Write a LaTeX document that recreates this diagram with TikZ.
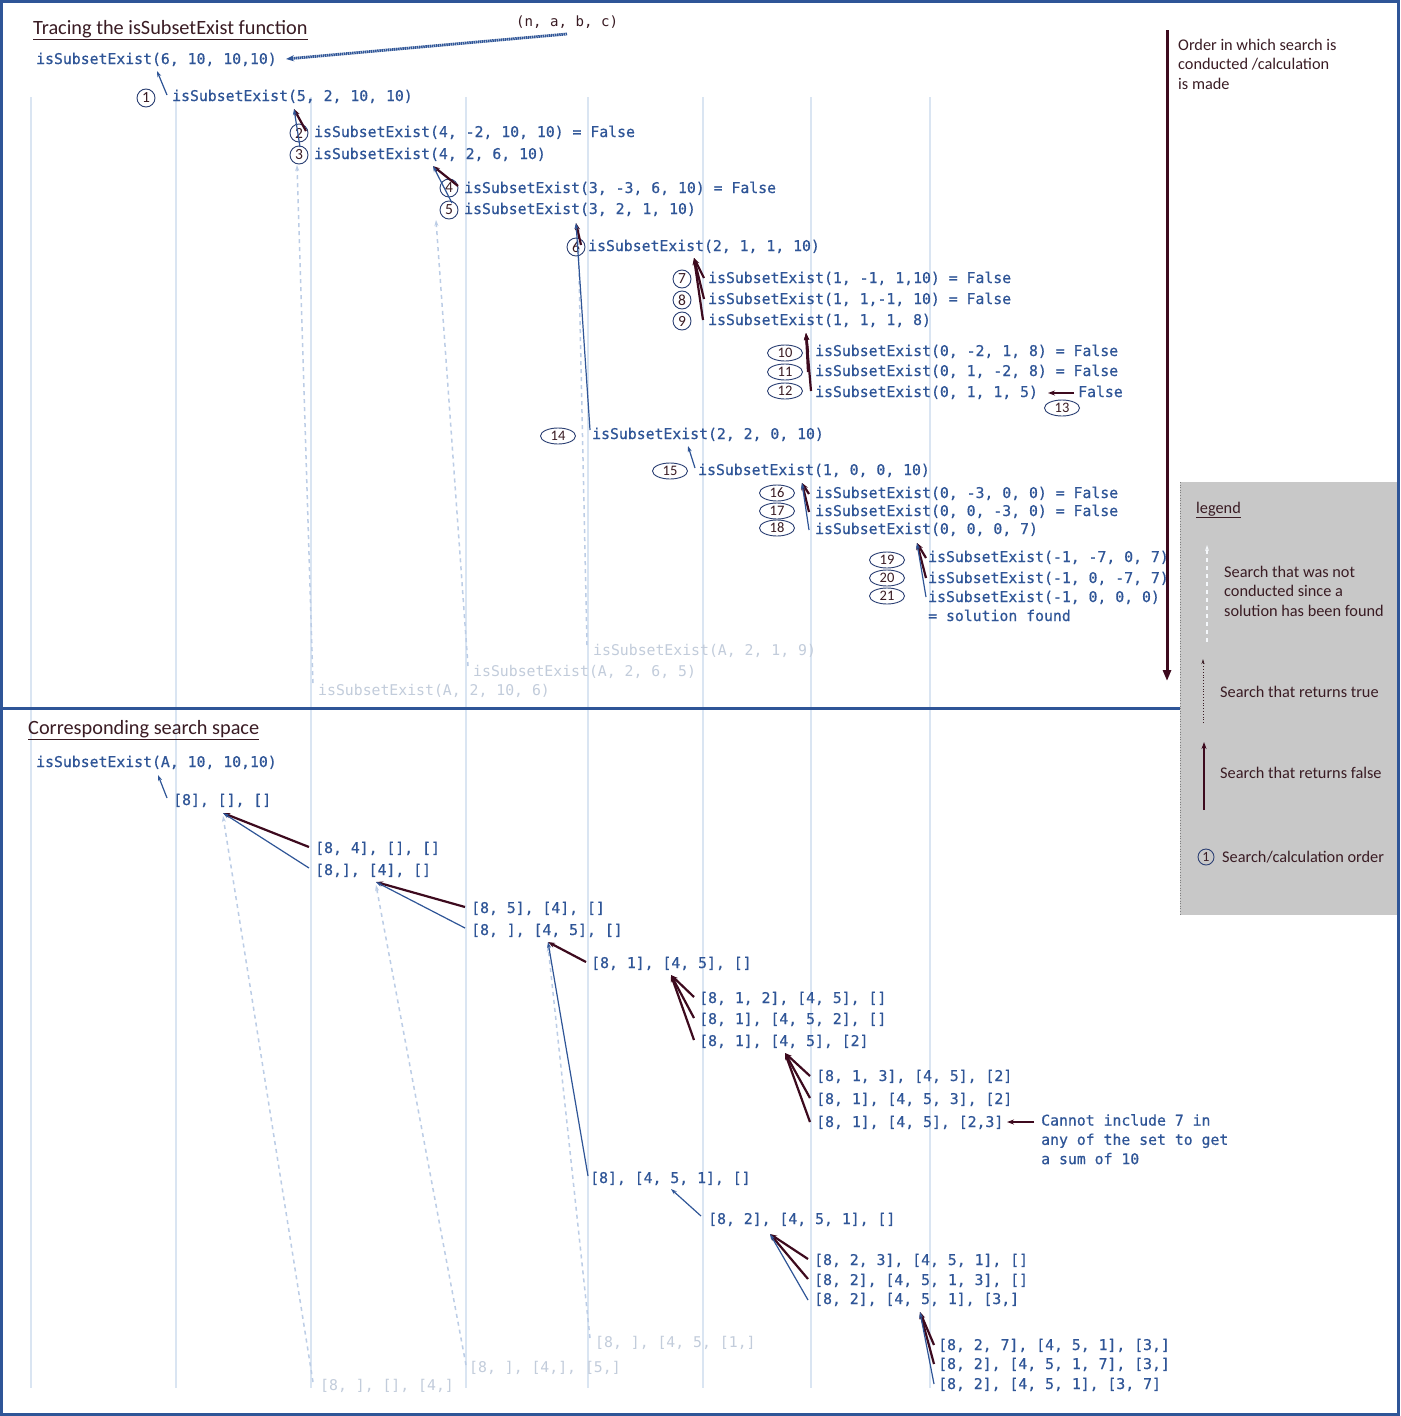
\documentclass[tikz,border=0pt]{standalone}
\usepackage{fontspec}
\setmainfont{Carlito}
\setmonofont{DejaVu Sans Mono}[BoldFont={DejaVu Sans Mono},BoldFeatures={FakeBold=0.6}]
\usetikzlibrary{shapes.geometric,arrows.meta}
\definecolor{blueT}{HTML}{2F5597}
\definecolor{maroonC}{HTML}{3D0A1E}
\definecolor{gridC}{HTML}{DAE5F2}
\definecolor{fadeC}{HTML}{C2CCDB}
\definecolor{dashC}{HTML}{BCCDE6}
\definecolor{legC}{HTML}{C8C8C8}
\definecolor{darkT}{HTML}{3A1C24}
\definecolor{circC}{HTML}{2B3F73}
\tikzset{
  mono/.style={font=\ttfamily\bfseries\fontsize{14.8}{17}\selectfont, text=blueT, anchor=west, inner sep=0pt, text height=11pt, text depth=3pt},
  fade/.style={mono, font=\ttfamily\fontsize{14.8}{17}\selectfont, text=fadeC},
  sans/.style={font=\fontsize{16.3}{19.5}\selectfont, text=darkT, anchor=west, inner sep=0pt, align=left},
  num/.style={circle, draw=circC, line width=0.9pt, inner sep=0pt, minimum size=18pt, font=\fontsize{15.5}{15.5}\selectfont, text=darkT},
  enum/.style={ellipse, draw=circC, line width=0.9pt, inner sep=0pt, minimum width=35pt, minimum height=16pt, font=\fontsize{14.5}{14.5}\selectfont, text=darkT},
  tru/.style={draw=blueT, line width=1.2pt, -{Stealth[length=6pt,width=4pt]}},
  fls/.style={draw=maroonC, line width=2.2pt, -{Stealth[length=7pt,width=5pt]}},
  notc/.style={draw=dashC, line width=1.5pt, dash pattern=on 4pt off 4pt, -{Stealth[open,length=6pt,width=4pt]}},
  gridln/.style={draw=gridC, line width=2pt},
  ttl/.style={sans, font=\fontsize{20.3}{22}\selectfont}
}
\begin{document}
\begin{tikzpicture}[x=1pt,y=-1pt]
\useasboundingbox (0,0) rectangle (1400,1416);
\fill[white] (0,0) rectangle (1400,1416);
% grid lines
\foreach \gx in {31,176,311,466,588,703,811,930}
  \draw[gridln] (\gx,97) -- (\gx,1388);
% legend box
\fill[legC] (1180,482) rectangle (1398,915);
\draw[gray, dotted, line width=0.6pt] (1180,482) -- (1180,915);
% separator and frame
\draw[blueT, line width=3pt] (0,708) -- (1180,708);
\draw[blueT, line width=3pt] (1.5,1.5) rectangle (1398.5,1414.5);
% order arrow
\draw[maroonC, line width=3pt, -{Triangle[length=11pt,width=8pt]}] (1167,30) -- (1167,681);
\node[sans] (order) at (1178,64) {Order in which search is\\conducted /calculation\\is made};

% ===== top section =====
\node[ttl] (title1) at (33,30) {\underline{Tracing the isSubsetExist function}};
\node[mono, text=darkT, font=\ttfamily\fontsize{14.1}{17}\selectfont] (nabc) at (516,23) {(n, a, b, c)};
\node[mono] (t0) at (36,60) {isSubsetExist(6, 10, 10,10)};
\node[mono] (t1) at (172,97) {isSubsetExist(5, 2, 10, 10)};
\node[mono] (t2) at (314,133) {isSubsetExist(4, -2, 10, 10) = False};
\node[mono] (t3) at (314,155) {isSubsetExist(4, 2, 6, 10)};
\node[mono] (t4) at (464,189) {isSubsetExist(3, -3, 6, 10) = False};
\node[mono] (t5) at (464,210) {isSubsetExist(3, 2, 1, 10)};
\node[mono] (t6) at (588,247) {isSubsetExist(2, 1, 1, 10)};
\node[mono] (t7) at (708,279) {isSubsetExist(1, -1, 1,10) = False};
\node[mono] (t8) at (708,300) {isSubsetExist(1, 1,-1, 10) = False};
\node[mono] (t9) at (708,321) {isSubsetExist(1, 1, 1, 8)};
\node[mono] (t10) at (815,352) {isSubsetExist(0, -2, 1, 8) = False};
\node[mono] (t11) at (815,372) {isSubsetExist(0, 1, -2, 8) = False};
\node[mono] (t12) at (815,393) {isSubsetExist(0, 1, 1, 5)};
\node[mono] (f13) at (1078,393) {False};
\node[mono] (t14) at (592,435) {isSubsetExist(2, 2, 0, 10)};
\node[mono] (t15) at (698,471) {isSubsetExist(1, 0, 0, 10)};
\node[mono] (t16) at (815,494) {isSubsetExist(0, -3, 0, 0) = False};
\node[mono] (t17) at (815,512) {isSubsetExist(0, 0, -3, 0) = False};
\node[mono] (t18) at (815,530) {isSubsetExist(0, 0, 0, 7)};
\node[mono] (t19) at (928,558) {isSubsetExist(-1, -7, 0, 7)};
\node[mono] (t20) at (928,579) {isSubsetExist(-1, 0, -7, 7)};
\node[mono] (t21) at (928,598) {isSubsetExist(-1, 0, 0, 0)};
\node[mono] (t21b) at (928,617) {= solution found};
\node[fade] (fa) at (593,651) {isSubsetExist(A, 2, 1, 9)};
\node[fade] (fb) at (473,672) {isSubsetExist(A, 2, 6, 5)};
\node[fade] (fc) at (318,691) {isSubsetExist(A, 2, 10, 6)};
% order markers
\node[num] (c1) at (146,98) {1};
\node[num] (c2) at (299,133) {2};
\node[num] (c3) at (299,155) {3};
\node[num] (c4) at (449,188) {4};
\node[num] (c5) at (449,210) {5};
\node[num] (c6) at (576,247) {6};
\node[num] (c7) at (682,279) {7};
\node[num] (c8) at (682,300) {8};
\node[num] (c9) at (682,321) {9};
\node[enum] (e10) at (785,353) {10};
\node[enum] (e11) at (785,372) {11};
\node[enum] (e12) at (785,391) {12};
\node[enum] (e13) at (1062,408) {13};
\node[enum] (e14) at (558,436) {14};
\node[enum] (e15) at (670,471) {15};
\node[enum] (e16) at (777,493) {16};
\node[enum] (e17) at (777,511) {17};
\node[enum] (e18) at (777,528) {18};
\node[enum] (e19) at (887,560) {19};
\node[enum] (e20) at (887,578) {20};
\node[enum] (e21) at (887,596) {21};
% connector end points
\coordinate (abcS) at (567,34);   \coordinate (abcE) at (286,59);
\coordinate (s1) at (167,95);     \coordinate (p0) at (157,71);
\coordinate (s2) at (306,131);    \coordinate (s3) at (300,147);  \coordinate (p1) at (294,109);
\coordinate (s4) at (458,186);    \coordinate (s5) at (452,203);  \coordinate (p3) at (433,166);
\coordinate (s6) at (581,245);    \coordinate (s14) at (590,430); \coordinate (p5) at (576,223);
\coordinate (s7) at (704,278);    \coordinate (s8) at (704,299);  \coordinate (s9) at (703,320); \coordinate (p6) at (694,258);
\coordinate (s10) at (808,352);   \coordinate (s11) at (808,372); \coordinate (s12) at (811,391); \coordinate (p9) at (806,333);
\coordinate (s13) at (1074,393);  \coordinate (p12) at (1048,393);
\coordinate (s15) at (695,468);   \coordinate (p14) at (688,446);
\coordinate (s16) at (809,494);   \coordinate (s17) at (809,512); \coordinate (s18) at (809,530); \coordinate (p15) at (802,483);
\coordinate (s19) at (926,558);   \coordinate (s20) at (926,578); \coordinate (s21) at (926,597); \coordinate (p18) at (917,543);
\coordinate (sfc) at (313,683);   \coordinate (pfc) at (297,165);
\coordinate (sfb) at (468,666);   \coordinate (pfb) at (436,220);
\coordinate (sfa) at (587,645);   \coordinate (pfa) at (578,226);
% connectors
\draw[blueT, line width=2.8pt, dash pattern=on 1.5pt off 0.6pt, -{Stealth[open,length=8pt,width=6pt]}] (abcS) -- (abcE);
\draw[notc] (sfc) -- (pfc);
\draw[notc] (sfb) -- (pfb);
\draw[notc] (sfa) -- (pfa);
\draw[tru] (s1) -- (p0);
\draw[fls] (s2) -- (p1);
\draw[tru] (s3) -- (p1);
\draw[fls] (s4) -- (p3);
\draw[tru] (s5) -- (p3);
\draw[fls] (s6) -- (p5);
\draw[tru] (s14) -- (p5);
\draw[fls] (s7) -- (p6);
\draw[fls] (s8) -- (p6);
\draw[fls] (s9) -- (p6);
\draw[fls] (s10) -- (p9);
\draw[fls] (s11) -- (p9);
\draw[fls] (s12) -- (p9);
\draw[fls] (s13) -- (p12);
\draw[tru] (s15) -- (p14);
\draw[fls] (s16) -- (p15);
\draw[fls] (s17) -- (p15);
\draw[tru] (s18) -- (p15);
\draw[fls] (s19) -- (p18);
\draw[fls] (s20) -- (p18);
\draw[tru] (s21) -- (p18);

% ===== bottom section =====
\node[ttl] (title2) at (28,730) {\underline{Corresponding search space}};
\node[mono] (b0) at (36,763) {isSubsetExist(A, 10, 10,10)};
\node[mono] (b1) at (173,801) {[8], [], []};
\node[mono] (b2) at (315,849) {[8, 4], [], []};
\node[mono] (b3) at (315,871) {[8,], [4], []};
\node[mono] (b4) at (471,909) {[8, 5], [4], []};
\node[mono] (b5) at (471,931) {[8, ], [4, 5], []};
\node[mono] (b6) at (591,964) {[8, 1], [4, 5], []};
\node[mono] (b7) at (699,999) {[8, 1, 2], [4, 5], []};
\node[mono] (b8) at (699,1020) {[8, 1], [4, 5, 2], []};
\node[mono] (b9) at (699,1042) {[8, 1], [4, 5], [2]};
\node[mono] (b10) at (816,1077) {[8, 1, 3], [4, 5], [2]};
\node[mono] (b11) at (816,1100) {[8, 1], [4, 5, 3], [2]};
\node[mono] (b12) at (816,1123) {[8, 1], [4, 5], [2,3]};
\node[mono, align=left, font=\ttfamily\bfseries\fontsize{14.8}{19.3}\selectfont, text height=, text depth=, anchor=north west] (note) at (1041,1114) {Cannot include 7 in\\any of the set to get\\a sum of 10};
\node[mono] (b13) at (590,1179) {[8], [4, 5, 1], []};
\node[mono] (b14) at (708,1220) {[8, 2], [4, 5, 1], []};
\node[mono] (b15) at (814,1261) {[8, 2, 3], [4, 5, 1], []};
\node[mono] (b16) at (814,1281) {[8, 2], [4, 5, 1, 3], []};
\node[mono] (b17) at (814,1300) {[8, 2], [4, 5, 1], [3,]};
\node[mono] (b18) at (938,1346) {[8, 2, 7], [4, 5, 1], [3,]};
\node[mono] (b19) at (938,1365) {[8, 2], [4, 5, 1, 7], [3,]};
\node[mono] (b20) at (938,1385) {[8, 2], [4, 5, 1], [3, 7]};
\node[fade] (ga) at (595,1343) {[8, ], [4, 5, [1,]};
\node[fade] (gb) at (469,1368) {[8, ], [4,], [5,]};
\node[fade] (gc) at (320,1386) {[8, ], [], [4,]};
\coordinate (q1) at (167,798);   \coordinate (r0) at (158,775);
\coordinate (q2) at (309,847);   \coordinate (q3) at (309,868);   \coordinate (r1) at (223,813);
\coordinate (q4) at (465,907);   \coordinate (q5) at (465,928);   \coordinate (r3) at (376,882);
\coordinate (q6) at (586,962);   \coordinate (q13) at (588,1176); \coordinate (r5) at (548,942);
\coordinate (q7) at (694,997);   \coordinate (q8) at (694,1018);  \coordinate (q9) at (694,1040); \coordinate (r6) at (671,975);
\coordinate (q10) at (810,1076); \coordinate (q11) at (810,1098); \coordinate (q12) at (810,1122); \coordinate (r9) at (785,1053);
\coordinate (qn) at (1034,1122); \coordinate (rn) at (1007,1122);
\coordinate (q14) at (701,1216); \coordinate (r13) at (671,1189);
\coordinate (q15) at (808,1259); \coordinate (q16) at (808,1279); \coordinate (q17) at (808,1300); \coordinate (r14) at (770,1234);
\coordinate (q18) at (934,1345); \coordinate (q19) at (934,1364); \coordinate (q20) at (934,1384); \coordinate (r17) at (920,1312);
\coordinate (qgc) at (313,1382); \coordinate (rgc) at (223,816);
\coordinate (qgb) at (466,1365); \coordinate (rgb) at (376,885);
\coordinate (qga) at (590,1338); \coordinate (rga) at (548,946);
\draw[notc] (qgc) -- (rgc);
\draw[notc] (qgb) -- (rgb);
\draw[notc] (qga) -- (rga);
\draw[tru] (q1) -- (r0);
\draw[fls] (q2) -- (r1);
\draw[tru] (q3) -- (r1);
\draw[fls] (q4) -- (r3);
\draw[tru] (q5) -- (r3);
\draw[fls] (q6) -- (r5);
\draw[tru] (q13) -- (r5);
\draw[fls] (q7) -- (r6);
\draw[fls] (q8) -- (r6);
\draw[fls] (q9) -- (r6);
\draw[fls] (q10) -- (r9);
\draw[fls] (q11) -- (r9);
\draw[fls] (q12) -- (r9);
\draw[fls] (qn) -- (rn);
\draw[tru] (q14) -- (r13);
\draw[fls] (q15) -- (r14);
\draw[fls] (q16) -- (r14);
\draw[tru] (q17) -- (r14);
\draw[fls] (q18) -- (r17);
\draw[fls] (q19) -- (r17);
\draw[tru] (q20) -- (r17);

% ===== legend =====
\node[sans] (legtitle) at (1196,510) {\underline{legend}};
\coordinate (l1s) at (1207,642); \coordinate (l1e) at (1207,545);
\draw[notc, draw=white!85!dashC] (l1s) -- (l1e);
\node[sans] (leg1) at (1224,591) {Search that was not\\conducted since a\\solution has been found};
\coordinate (l2s) at (1203,723); \coordinate (l2e) at (1203,659);
\draw[darkT, line width=0.8pt, dotted, -{Stealth[length=5pt,width=3pt]}] (l2s) -- (l2e);
\node[sans] (leg2) at (1220,692) {Search that returns true};
\coordinate (l3s) at (1204,810); \coordinate (l3e) at (1204,742);
\draw[fls] (l3s) -- (l3e);
\node[sans] (leg3) at (1220,773) {Search that returns false};
\node[num, minimum size=16pt, font=\fontsize{14}{14}\selectfont, fill=legC] (lc1) at (1206,857) {1};
\node[sans] (leg4) at (1222,857) {Search/calculation order};
\end{tikzpicture}
\end{document}
